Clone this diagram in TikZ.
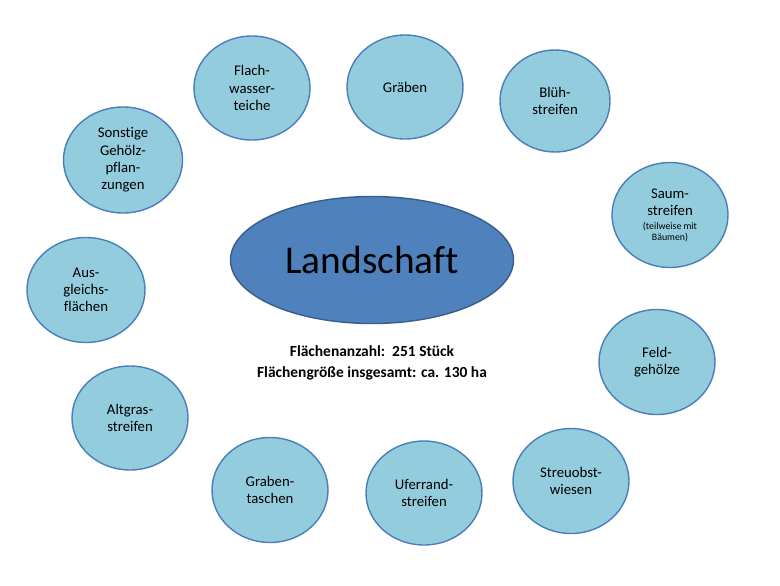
\documentclass[tikz,border=0pt]{standalone}
\usepackage{fontspec}
\setmainfont{Carlito}[Ligatures=NoCommon]
\usetikzlibrary{positioning, shapes.geometric}
\newcommand{\pxu}{0.025cm}
\definecolor{topicfill}{RGB}{147,205,221}
\definecolor{topicline}{RGB}{74,126,187}
\definecolor{centrefill}{RGB}{79,129,189}
\definecolor{centreline}{RGB}{56,93,138}

\begin{document}
\begin{tikzpicture}[
    x=\pxu, y=-\pxu,
    topic/.style={ellipse, draw=topicline, line width=1pt, fill=topicfill,
        minimum width=116*\pxu, minimum height=104*\pxu, inner sep=0pt,
        align=center, font=\fontsize{10.5}{12.3}\selectfont},
    centre/.style={ellipse, draw=centreline, line width=1pt, fill=centrefill,
        minimum width=283*\pxu, minimum height=127*\pxu, inner sep=0pt,
        font=\fontsize{28}{32}\selectfont},
    info/.style={align=center, font=\bfseries\fontsize{11}{15}\selectfont}
]
\useasboundingbox (0,0) rectangle (780,585);

\node[centre] (land) at (372,260) {Landschaft};

\node[topic] (flach) at (252,88) {Flach-\\wasser-\\teiche};
\node[topic] (graeben) at (405,87) {Gräben};
\node[topic, minimum width=110*\pxu, minimum height=102*\pxu] (bluehen) at (555,101) {Blüh-\\streifen};
\node[topic, minimum height=105*\pxu] (saum) at (670,215) {Saum-\\streifen\\[-2pt]{\fontsize{7}{8}\selectfont (teilweise mit}\\[-5pt]{\fontsize{7}{8}\selectfont Bäumen)}};
\node[topic, minimum height=105*\pxu] (feld) at (657,362) {Feld-\\gehölze};
\node[topic, minimum height=105*\pxu] (streuobst) at (571,481) {Streuobst-\\wiesen};
\node[topic] (ufer) at (424,493) {Uferrand-\\streifen};
\node[topic, minimum height=105*\pxu] (grabentaschen) at (270,490) {Graben-\\taschen};
\node[topic] (altgras) at (130,418) {Altgras-\\streifen};
\node[topic, minimum width=118*\pxu, minimum height=105*\pxu] (ausgleich) at (86,290) {Aus-\\gleichs-\\flächen};
\node[topic, minimum width=119*\pxu, minimum height=106*\pxu] (gehoelz) at (123,160) {Sonstige\\Gehölz-\\pflan-\\zungen};

\node[info] (stats) at (372,363) {Flächenanzahl:~~251 Stück\\Flächengröße insgesamt: ca. 130 ha};

\end{tikzpicture}
\end{document}
